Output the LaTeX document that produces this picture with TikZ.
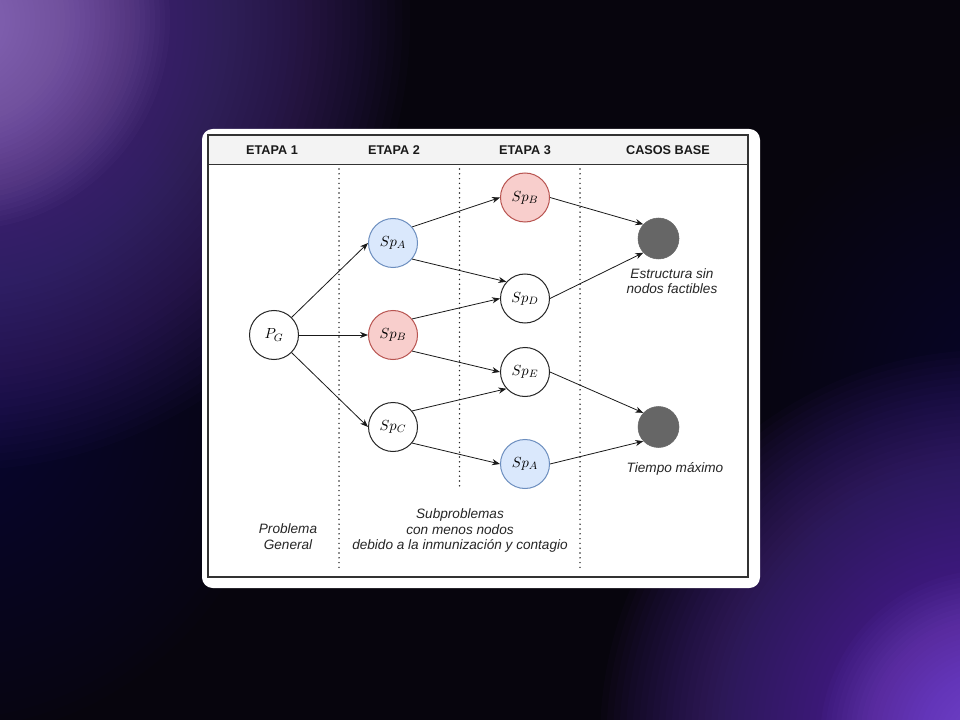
\documentclass[tikz,border=0pt]{standalone}
\usepackage{fontspec}
\setmainfont{Liberation Sans}
\usetikzlibrary{arrows.meta}
\definecolor{bgdark}{HTML}{07050D}
\definecolor{tlA}{HTML}{B090D8}
\definecolor{tlB}{HTML}{5A3A9A}
\definecolor{brA}{HTML}{9060F0}
\definecolor{brB}{HTML}{6034B0}
\definecolor{midL}{HTML}{2E1A66}
\definecolor{redfill}{HTML}{F8CECC}
\definecolor{redline}{HTML}{B85450}
\definecolor{bluefill}{HTML}{DAE8FC}
\definecolor{blueline}{HTML}{6C8EBF}
\definecolor{basegray}{HTML}{666666}
\definecolor{frameline}{HTML}{333333}
\definecolor{headfill}{HTML}{F3F3F3}
\begin{document}
\begin{tikzpicture}[x=0.75pt,y=-0.75pt,
  stnode/.style={circle, draw=black!85, line width=0.75pt, fill=white, minimum size=36.75pt, inner sep=0pt, font=\fontsize{11}{13}\selectfont},
  rednode/.style={stnode, fill=redfill, draw=redline},
  bluenode/.style={stnode, fill=bluefill, draw=blueline},
  basenode/.style={circle, fill=basegray, draw=basegray, minimum size=30.75pt, inner sep=0pt},
  conn/.style={draw=black!90, line width=0.6pt, -{Stealth[length=6pt,width=4.6pt]}},
  headtxt/.style={font=\fontsize{9.5}{11}\selectfont\bfseries, text=black!90},
  lbl/.style={font=\fontsize{10.2}{11.6}\selectfont\itshape, align=center, text=black!85},
  sep/.style={draw=black!85, line width=1.2pt, line cap=round, dash pattern=on 0pt off 3.6pt}
]
\useasboundingbox (0,0) rectangle (960,720);
% background
\fill[bgdark] (0,0) rectangle (960,720);
\begin{scope}
  \clip (0,0) rectangle (960,720);
  \foreach \r in {10,20,...,340} {\fill[midL, opacity=0.025] (-60,400) circle (\r);}
  \foreach \r in {10,20,...,280} {\fill[midL, opacity=0.02] (1010,390) circle (\r);}
  \foreach \r in {7.5,15,...,450} {\fill[tlB, opacity=0.036] (-40,20) circle (\r);}
  \foreach \r in {5,10,...,210} {\fill[tlA, opacity=0.032] (-40,20) circle (\r);}
  \foreach \r in {6.5,13,...,390} {\fill[brB, opacity=0.035] (990,740) circle (\r);}
  \foreach \r in {5,10,...,170} {\fill[brA, opacity=0.035] (990,740) circle (\r);}
\end{scope}
% card
\fill[white, rounded corners=8pt] (202,129) rectangle (760,588);
% frame
\fill[headfill] (208,135.5) rectangle (748,164.5);
\draw[frameline, line width=1.2pt] (208,164.5) -- (748,164.5);
\draw[frameline, line width=1.5pt] (208,135.5) rectangle (748,577);
% headers
\node[headtxt] (h1) at (272,150) {ETAPA 1};
\node[headtxt] (h2) at (394,150) {ETAPA 2};
\node[headtxt] (h3) at (525,150) {ETAPA 3};
\node[headtxt] (h4) at (668,150) {CASOS BASE};
% separators
\coordinate (s1t) at (339,169); \coordinate (s1b) at (339,568);
\coordinate (s2t) at (459.5,169); \coordinate (s2b) at (459.5,486);
\coordinate (s3t) at (580,169); \coordinate (s3b) at (580,568);
\draw[sep] (s1t) -- (s1b);
\draw[sep] (s2t) -- (s2b);
\draw[sep] (s3t) -- (s3b);
% nodes
\node[stnode] (pg) at (274,335) {$P_G$};
\node[bluenode] (a2) at (393,243) {$Sp_A$};
\node[rednode] (b2) at (393,335) {$Sp_B$};
\node[stnode] (c2) at (393,427) {$Sp_C$};
\node[rednode] (b3) at (525,197.5) {$Sp_B$};
\node[stnode] (d3) at (525,298.5) {$Sp_D$};
\node[stnode] (e3) at (525,372) {$Sp_E$};
\node[bluenode] (a3) at (525,464) {$Sp_A$};
\node[basenode] (x1) at (658.5,238.5) {};
\node[basenode] (x2) at (658.5,427) {};
% connectors
\draw[conn] (pg.45) -- (a2.west);
\draw[conn] (pg.east) -- (b2.west);
\draw[conn] (pg.-45) -- (c2.west);
\draw[conn] (a2.40) -- (b3.west);
\draw[conn] (a2.-40) -- (d3.138);
\draw[conn] (b2.40) -- (d3.west);
\draw[conn] (b2.-40) -- (e3.west);
\draw[conn] (c2.40) -- (e3.-138);
\draw[conn] (c2.-40) -- (a3.west);
\draw[conn] (b3.east) -- (x1.137);
\draw[conn] (d3.east) -- (x1.-137);
\draw[conn] (e3.east) -- (x2.137);
\draw[conn] (a3.east) -- (x2.-137);
% labels
\node[lbl] (l1) at (672,281) {Estructura sin\\nodos factibles};
\node[lbl] (l2) at (675,469) {Tiempo máximo};
\node[lbl] (l3) at (288,536.5) {Problema\\General};
\node[lbl] (l4) at (460,530.5) {Subproblemas\\con menos nodos\\debido a la inmunización y contagio};
\end{tikzpicture}
\end{document}
